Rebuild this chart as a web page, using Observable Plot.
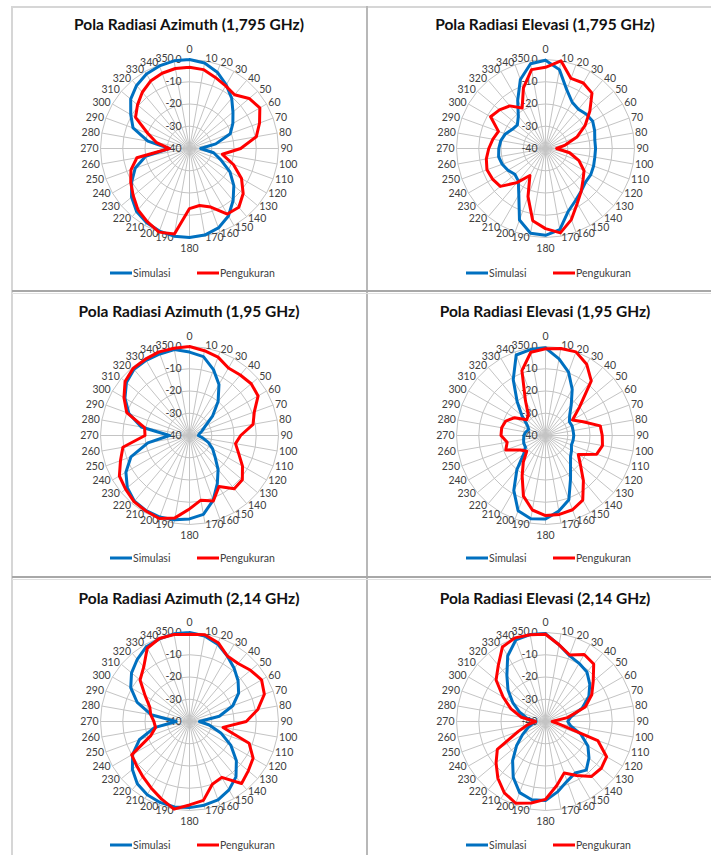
<!DOCTYPE html>
<html>
<head>
<meta charset="utf-8">
<script src="https://cdn.jsdelivr.net/npm/d3@7"></script>
<script src="https://cdn.jsdelivr.net/npm/@observablehq/plot@0.6"></script>
<style>
  body { margin: 0; background: #ffffff; font-family: Lato, "Open Sans", sans-serif; }
  #root { position: relative; width: 711px; height: 855px; overflow: hidden; background: #fff; }
  .hline, .vline { position: absolute; }
  .title { position: absolute; font-weight: bold; font-size: 15.5px; color: #111; white-space: nowrap; transform: translate(-50%, -50%); }
  .leg { position: absolute; font-size: 10.5px; color: #404040; white-space: nowrap; transform: translateY(-50%); }
  .sw { position: absolute; height: 3px; transform: translateY(-50%); }
  .chart { position: absolute; }
</style>
</head>
<body>
<div id="root"></div>
<script>
// ---------- data ----------
const angles = [0, 10, 20, 30, 40, 50, 60, 70, 80, 90, 100, 110, 120, 130, 140, 150, 160, 170,
                180, 190, 200, 210, 220, 230, 240, 250, 260, 270, 280, 290, 300, 310, 320, 330, 340, 350];
const ringLevels = [-30, -20, -10, 0];
const radialTicks = [-40, -30, -20, -10, 0];
const seriesNames = ["Simulasi", "Pengukuran"];
const seriesColors = ["#0070C0", "#FF0000"];
const titles = [
  "Pola Radiasi Azimuth (1,795 GHz)", "Pola Radiasi Elevasi (1,795 GHz)",
  "Pola Radiasi Azimuth (1,95 GHz)",  "Pola Radiasi Elevasi (1,95 GHz)",
  "Pola Radiasi Azimuth (2,14 GHz)",  "Pola Radiasi Elevasi (2,14 GHz)"
];

const azSim1795 = [0, -1, -3.5, -7, -10.5, -14.5, -17.5, -20.5, -28, -35, -29, -25, -19, -14, -9.5, -5, -2, -0.5,
                   0, 0, -0.5, -1.5, -3, -6, -10, -14, -20, -31, -21, -13, -9.5, -5.5, -3, -1.3, -0.5, 0];
const azMeas1795 = [-3.5, -4, -6, -7.5, -8.5, -5, -3.5, -6.5, -9.5, -17, -25, -19, -13, -8.5, -5.5, -6, -12, -14,
                    -13, -1, 0, -2, -4, -7, -9.5, -12, -16, -31, -25, -20, -12, -9.5, -7, -5, -4, -3.5];

const elSim1795 = [-0.3, -4, -12, -16, -17, -16, -15.5, -16.5, -17.5, -17.5, -17.5, -17, -16.5, -16.5, -15, -13, -10, -3,
                   -1, -1.3, -5.8, -16, -21, -22, -20.5, -19.3, -18.6, -19, -19.6, -20.8, -22.8, -23.5, -21, -15, -7, -1.3];
const elMeas1795 = [-3.5, 0, -6.5, -6, -7.5, -14, -19.5, -25, -31, -35, -29, -24, -20, -18, -15, -11.5, -6, -1.5,
                    -4, -7, -17, -26, -20, -13.5, -12.5, -12, -13, -14.5, -16, -17.5, -11.5, -13, -15, -19, -11, -4];

const azSim195 = [-2.5, -4, -8.5, -13.5, -20, -26.5, -32, -34, -35.5, -36, -34, -31, -28, -25, -20, -15, -9, -4,
                  -2.5, -1.5, -1, -1, -1.5, -3.5, -7, -12, -21, -31, -18, -11, -6.5, -3, -1.2, -1, -1, -0.8];
const azMeas195 = [0, -1.3, -2.5, -5, -4.5, -3.8, -4.4, -9, -11, -17, -19, -16.5, -12.5, -9, -8.7, -13.5, -8.7, -10.5,
                   -7, -2.4, -0.3, -0.8, -1.2, -2.5, -3.6, -7, -9.6, -20, -19.5, -10, -6, -2.2, -0.6, -0.4, 0, -0.2];

const elSim195 = [-0.6, -5, -9.7, -16, -22, -25.8, -27.6, -27.3, -27.4, -27.3, -27.4, -27.6, -26.5, -25.3, -22.5, -17.5, -9.3, -5.5,
                  -2.5, -2, -4, -11.5, -20, -27.3, -29.6, -29.6, -30, -30.3, -31, -32, -30.5, -26.2, -20.2, -11, -1.5, -0.8];
const elMeas195 = [-1, -0.3, 0, -3, -8, -20, -26, -22, -15, -14.5, -14, -15.5, -23, -19.5, -13.5, -6.5, -4.5, -4,
                   -4, -6, -11, -19, -24.5, -29, -27, -21, -22.5, -20, -20, -21, -24, -29, -28, -22, -9, -2];

const azSim214 = [0, -1, -3, -6, -8.8, -11.5, -14.5, -19.3, -26.4, -35.5, -31, -25, -18.5, -12.5, -7.5, -4.5, -2.5, -1.8,
                  -1.3, -1, -1.3, -2, -3.5, -6.5, -10.5, -16, -24, -34, -22.5, -15, -9.5, -6, -3.5, -1.2, -0.5, 0];
const azMeas214 = [-0.8, -0.4, -2.3, -6, -6, -4.2, -2.6, -4.2, -8.8, -14.5, -24.7, -11.5, -7, -5.5, -3.6, -11, -10, -4,
                   -2.5, 0, -3, -5.5, -7.5, -9, -10, -21.5, -24.5, -24, -22.3, -21, -17, -11, -8, -2, -0.3, -0.3];

const elSim214 = [-0.5, -5, -8.5, -9.8, -11, -14, -17.5, -22.5, -28.5, -30, -28.5, -23, -18, -14.5, -11.5, -13.3, -11.5, -8,
                  -4.5, -4.3, -6, -11, -17, -23, -28, -31.5, -34, -35.5, -31.5, -27.5, -23, -18, -13, -6, -1, -0.3];
const elMeas214 = [-0.8, -5, -8.2, -5.2, -6.3, -12, -16, -21, -30, -37, -34, -15, -8.3, -7.3, -7.8, -12, -15.4, -10.8,
                   -5, -2.8, -0.9, -3, -6.7, -11, -15, -27, -32, -35.5, -29, -23.5, -18, -11, -7, -1.3, 0, -0.4];

const panelSeries = [
  [azSim1795, azMeas1795], [elSim1795, elMeas1795],
  [azSim195, azMeas195],   [elSim195, elMeas195],
  [azSim214, azMeas214],   [elSim214, elMeas214]
];

// ---------- layout ----------
const dbMin = -40;
const S = 89 / 40;            // px per dB
const W = 260, H = 240;
const colCx = [189, 545];
const rowCy = [148, 435, 720.5];
const rowTitleY = [24, 311, 598];
const rowLegendY = [273, 558, 845];
const gridColor = "#c4c4c4";
const labelColor = "#404040";
const font = "Lato, 'Open Sans', sans-serif";

const root = document.getElementById("root");

function addLine(cls, style) {
  const d = document.createElement("div");
  d.className = cls;
  Object.assign(d.style, style);
  root.appendChild(d);
}
// panel frame lines
addLine("hline", {left: "12px", top: "6px", width: "699px", height: "1.5px", background: "#d6d6d6"});
addLine("vline", {left: "11px", top: "6px", width: "2px", height: "849px", background: "#d6d6d6"});
addLine("vline", {left: "366px", top: "6px", width: "2px", height: "849px", background: "#b8b8b8"});
addLine("hline", {left: "12px", top: "290px", width: "699px", height: "1.5px", background: "#a8a8a8"});
addLine("hline", {left: "12px", top: "292.5px", width: "699px", height: "1px", background: "#e0e0e0"});
addLine("hline", {left: "12px", top: "576px", width: "699px", height: "1.5px", background: "#a8a8a8"});
addLine("hline", {left: "12px", top: "578.5px", width: "699px", height: "1px", background: "#e0e0e0"});

const rad = a => a * Math.PI / 180;
const pt = (deg, db) => ({x: (db - dbMin) * Math.sin(rad(deg)), y: (db - dbMin) * Math.cos(rad(deg))});

function makeChart(vals) {
  const closed = [...angles, angles[0]];
  const rings = ringLevels.flatMap(level => closed.map(a => ({level, ...pt(a, level)})));
  const series = vals.flatMap((v, s) => closed.map((a, i) => ({name: seriesNames[s], ...pt(a, v[i % angles.length])})));
  const rL = 91 / S;
  const lab = angles.map(a => ({a, text: String(a), x: rL * Math.sin(rad(a)), y: rL * Math.cos(rad(a))}));
  return Plot.plot({
    width: W, height: H, margin: 0,
    x: {domain: [-W / 2 / S, W / 2 / S], axis: null},
    y: {domain: [-H / 2 / S, H / 2 / S], axis: null},
    color: {domain: seriesNames, range: seriesColors},
    style: {fontFamily: font, fontSize: "10.5px", color: labelColor, background: "transparent", overflow: "visible"},
    marks: [
      Plot.link(angles, {x1: () => 0, y1: () => 0,
        x2: a => (0 - dbMin) * Math.sin(rad(a)), y2: a => (0 - dbMin) * Math.cos(rad(a)),
        stroke: gridColor, strokeWidth: 1}),
      Plot.line(rings, {x: "x", y: "y", z: "level", stroke: gridColor, strokeWidth: 1, curve: "linear-closed"}),
      Plot.text(radialTicks, {x: () => 0, y: d => d - dbMin, text: d => String(d), textAnchor: "end", dx: -8, fill: labelColor}),
      Plot.text(lab.filter(d => d.a === 0), {x: "x", y: "y", text: "text", textAnchor: "middle", dy: -8, fill: labelColor}),
      Plot.text(lab.filter(d => d.a === 180), {x: "x", y: "y", text: "text", textAnchor: "middle", dy: 9, fill: labelColor}),
      Plot.text(lab.filter(d => d.a > 0 && d.a < 180), {x: "x", y: "y", text: "text", textAnchor: "start", fill: labelColor}),
      Plot.text(lab.filter(d => d.a > 180), {x: "x", y: "y", text: "text", textAnchor: "end", fill: labelColor}),
      Plot.line(series, {x: "x", y: "y", z: "name", stroke: "name", strokeWidth: 3, strokeLinejoin: "round"})
    ]
  });
}

titles.forEach((t, i) => {
  const r = Math.floor(i / 2), c = i % 2;
  const cx = colCx[c], cy = rowCy[r];
  const title = document.createElement("div");
  title.className = "title";
  title.textContent = t;
  title.style.left = cx + "px";
  title.style.top = rowTitleY[r] + "px";
  root.appendChild(title);

  const chart = makeChart(panelSeries[i]);
  chart.classList.add("chart");
  chart.style.left = (cx - W / 2) + "px";
  chart.style.top = (cy - H / 2) + "px";
  root.appendChild(chart);

  const ly = rowLegendY[r];
  const legendItems = [{dx0: -79, dx1: -57, tx: -56}, {dx0: 8, dx1: 30, tx: 31}];
  legendItems.forEach((li, s) => {
    const sw = document.createElement("div");
    sw.className = "sw";
    sw.style.left = (cx + li.dx0) + "px";
    sw.style.width = (li.dx1 - li.dx0) + "px";
    sw.style.top = ly + "px";
    sw.style.background = seriesColors[s];
    root.appendChild(sw);
    const tx = document.createElement("div");
    tx.className = "leg";
    tx.textContent = seriesNames[s];
    tx.style.left = (cx + li.tx) + "px";
    tx.style.top = ly + "px";
    root.appendChild(tx);
  });
});
</script>
</body>
</html>
